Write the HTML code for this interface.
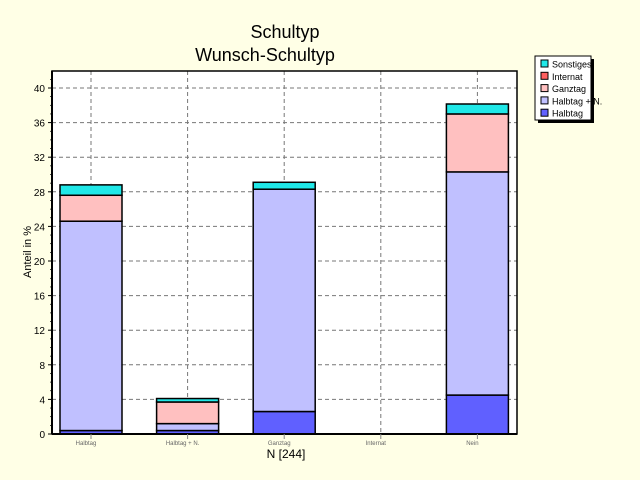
<!DOCTYPE html>
<html><head><meta charset="utf-8"><style>
body{margin:0;background:#ffffe6;}
svg{display:block;font-family:"Liberation Sans",sans-serif;}
</style></head><body>
<svg id="c" width="640" height="480">
<rect x="0" y="0" width="640" height="480" fill="#ffffe6"/>
<text x="285" y="38" font-size="18" text-anchor="middle">Schultyp</text>
<text x="265" y="61" font-size="18" text-anchor="middle">Wunsch-Schultyp</text>
<rect x="52" y="71" width="465" height="363" fill="#fff"/>
<g id="grid"></g><g id="bars"></g>
<rect x="52" y="71" width="465" height="363" fill="none" stroke="#000" stroke-width="1.5"/>
<line x1="52" y1="434" x2="517" y2="434" stroke="#000" stroke-width="2"/>
<line x1="52" y1="71" x2="52" y2="434" stroke="#000" stroke-width="2"/>
<g id="axes"></g>
<text x="286" y="458" font-size="12" text-anchor="middle">N [244]</text>
<text transform="translate(31,252) rotate(-90)" font-size="11" text-anchor="middle">Anteil in %</text>
<g>
<rect x="538" y="59" width="56" height="64" fill="#000"/>
<rect x="535" y="56" width="56" height="64" fill="#fff" stroke="#000"/>
<g id="leg"></g>
</g>
</svg>
<script>
const categories=["Halbtag","Halbtag + N.","Ganztag","Internat","Nein"];
const halbtag=[0.4,0.4,2.6,0,4.5];
const halbtagN=[24.2,0.8,25.7,0,25.8];
const ganztag=[3.0,2.5,0,0,6.7];
const internat=[0,0,0,0,0];
const sonstiges=[1.2,0.4,0.8,0,1.15];
const yTicks=[0,4,8,12,16,20,24,28,32,36,40];
const seriesNames=["Halbtag","Halbtag + N.","Ganztag","Internat","Sonstiges"];
const NS="http://www.w3.org/2000/svg";
const series=[halbtag,halbtagN,ganztag,internat,sonstiges];
const colors=["#6060ff","#c0c0ff","#ffc0c0","#ff6060","#20e8e8"];
function y(v){return 434-v*8.65;}
function xc(i){return 91+i*96.6;}
function mk(t,a,p){const e=document.createElementNS(NS,t);for(const k in a)e.setAttribute(k,a[k]);p.appendChild(e);return e;}
const grid=document.getElementById('grid'),axes=document.getElementById('axes'),bars=document.getElementById('bars');
yTicks.forEach(t=>{
 if(t>0){const l=mk('line',{x1:52,x2:517,y1:y(t),y2:y(t),stroke:'#777','stroke-dasharray':'4,3'},grid);
 
 }
 const tx=mk('text',{x:45,y:y(t)+4,'font-size':10,'text-anchor':'end'},axes);tx.textContent=t;
 
 
 mk('line',{x1:48,x2:52,y1:y(t),y2:y(t),stroke:'#000'},axes);
});
for(let v=0;v<42;v++){mk('line',{x1:50,x2:52,y1:y(v),y2:y(v),stroke:'#000','stroke-width':0.7},axes);}
categories.forEach((c,i)=>{
 const gl=mk('line',{x1:xc(i),x2:xc(i),y1:71,y2:434,stroke:'#777','stroke-dasharray':'4,3'},grid);
 
 
 mk('line',{x1:xc(i),x2:xc(i),y1:434,y2:439,stroke:'#888'},axes);
 const tx=mk('text',{x:xc(i)-5,y:445,'font-size':6,'text-anchor':'middle',fill:'#666'},axes);tx.textContent=c;
 
 
 let acc=0;
 series.forEach((s,k)=>{
  const v=s[i];if(v<=0)return;
  const r=mk('rect',{x:xc(i)-31,y:y(acc+v),width:62,height:y(acc)-y(acc+v),fill:colors[k],stroke:'#000','stroke-width':1.5},bars);
  
  
  acc+=v;
 });
});
const leg=document.getElementById('leg');
for(let k=4;k>=0;k--){
 const row=4-k, yy=64+row*12.3;
 mk('rect',{x:541,y:yy-4,width:7,height:7,fill:colors[k],stroke:'#000'},leg);
 const t=mk('text',{x:552,y:yy+3.5,'font-size':9},leg);t.textContent=seriesNames[k];
 
 
}
</script>
</body></html>
